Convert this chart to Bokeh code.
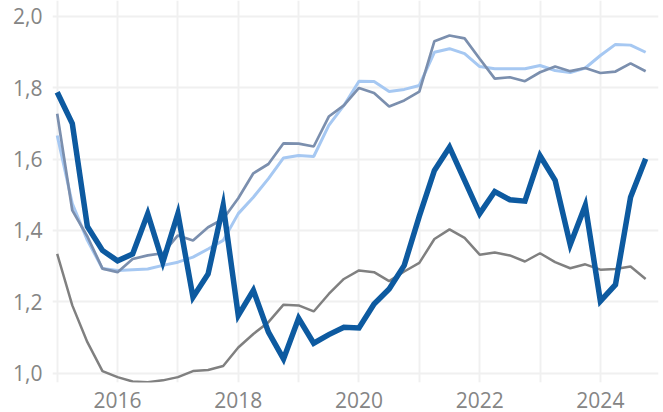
from bokeh.plotting import figure
from bokeh.models import FixedTicker, CustomJSTickFormatter, Range1d
from bokeh.embed import file_html
from bokeh.resources import INLINE

# Quarterly observations, 2015Q1 .. 2024Q4
years = [2015 + 0.25 * i for i in range(40)]

series_dark = [1.787, 1.699, 1.411, 1.344, 1.315, 1.334, 1.447, 1.311, 1.447, 1.213,
               1.278, 1.470, 1.162, 1.232, 1.115, 1.040, 1.154, 1.084, 1.108, 1.129,
               1.127, 1.194, 1.236, 1.302, 1.440, 1.568, 1.633, 1.540, 1.447, 1.509,
               1.486, 1.482, 1.609, 1.540, 1.360, 1.470, 1.202, 1.248, 1.493, 1.601]

series_slate = [1.727, 1.456, 1.383, 1.293, 1.283, 1.320, 1.330, 1.336, 1.386, 1.372,
                1.409, 1.432, 1.490, 1.560, 1.586, 1.644, 1.643, 1.635, 1.719, 1.750,
                1.799, 1.785, 1.747, 1.764, 1.789, 1.930, 1.946, 1.938, 1.881, 1.825,
                1.829, 1.818, 1.843, 1.859, 1.846, 1.855, 1.841, 1.845, 1.868, 1.846]

series_light = [1.666, 1.475, 1.372, 1.293, 1.288, 1.290, 1.292, 1.302, 1.311, 1.325,
                1.348, 1.372, 1.447, 1.493, 1.545, 1.603, 1.610, 1.607, 1.694, 1.750,
                1.818, 1.817, 1.789, 1.795, 1.806, 1.899, 1.909, 1.895, 1.859, 1.853,
                1.853, 1.853, 1.862, 1.848, 1.842, 1.855, 1.890, 1.921, 1.919, 1.899]

series_grey = [1.334, 1.190, 1.087, 1.006, 0.989, 0.977, 0.975, 0.980, 0.989, 1.006,
               1.009, 1.020, 1.072, 1.110, 1.143, 1.192, 1.190, 1.173, 1.222, 1.264,
               1.288, 1.283, 1.258, 1.285, 1.309, 1.376, 1.403, 1.379, 1.332, 1.338,
               1.330, 1.313, 1.336, 1.311, 1.294, 1.305, 1.290, 1.292, 1.299, 1.264]

y_ticks = [1.0, 1.2, 1.4, 1.6, 1.8, 2.0]
x_label_ticks = [2016, 2018, 2020, 2022, 2024]
x_grid_ticks = list(range(2015, 2025))

p = figure(width=663, height=412, output_backend="svg", toolbar_location=None,
           x_range=Range1d(2014.922, 2024.963), y_range=Range1d(0.974, 2.044),
           min_border_left=52, min_border_right=5, min_border_top=0, min_border_bottom=30)
p.outline_line_color = None
p.background_fill_color = "white"

p.line(years, series_grey, line_color="#808080", line_width=2.5)
p.line(years, series_light, line_color="#a6c8f2", line_width=3)
p.line(years, series_slate, line_color="#7b8fae", line_width=2.7)
p.line(years, series_dark, line_color="#0d5aa0", line_width=5.5, line_join="miter")

for ax in (p.xaxis[0], p.yaxis[0]):
    ax.axis_line_color = None
    ax.major_tick_line_color = None
    ax.minor_tick_line_color = None
    ax.major_tick_out = 0
    ax.major_label_text_font = "Open Sans"
    ax.major_label_text_font_size = "21px"
    ax.major_label_text_color = "#858585"

p.xaxis.ticker = FixedTicker(ticks=x_label_ticks)
p.xaxis.major_label_standoff = 9
p.yaxis.ticker = FixedTicker(ticks=y_ticks)
p.yaxis.major_label_standoff = 10
p.yaxis.formatter = CustomJSTickFormatter(code="return tick.toFixed(1).replace('.', ',');")

p.xgrid.ticker = FixedTicker(ticks=x_grid_ticks)
p.xgrid.grid_line_color = "#f0f0f0"
p.xgrid.grid_line_width = 2
p.ygrid.ticker = FixedTicker(ticks=y_ticks)
p.ygrid.grid_line_color = "#f0f0f0"
p.ygrid.grid_line_width = 2

open("out.html", "w").write(file_html(p, INLINE))
